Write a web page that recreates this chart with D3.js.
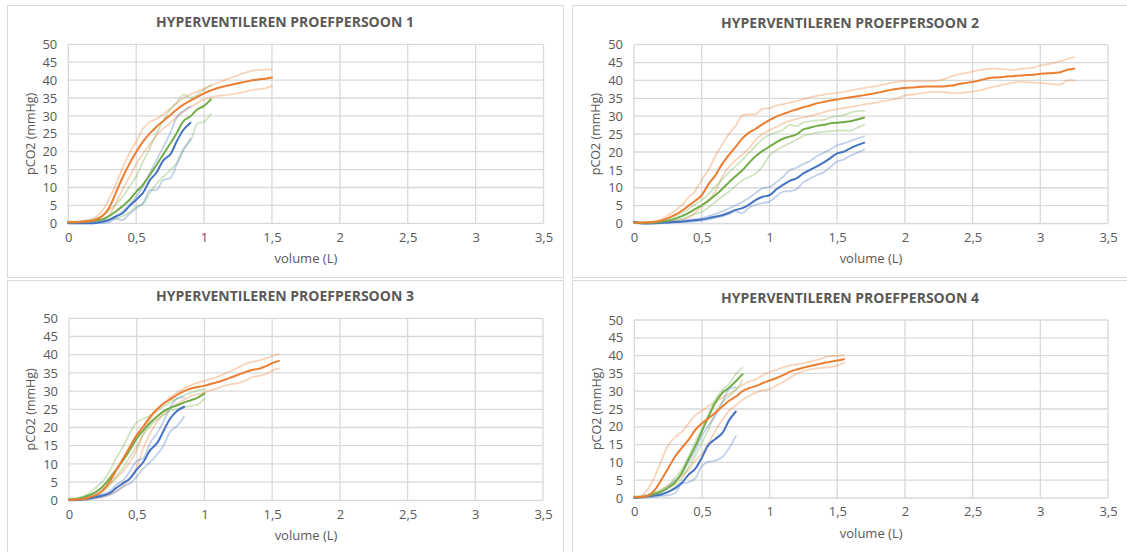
<!DOCTYPE html>
<html>
<head>
<meta charset="utf-8">
<script src="https://cdn.jsdelivr.net/npm/d3@7"></script>
<style>
  html, body { margin: 0; padding: 0; background: #fff; }
  svg { display: block; }
  text { font-family: "Open Sans", "Noto Sans", sans-serif; fill: #595959; }
</style>
</head>
<body>
<svg id="chart" width="1127" height="552"></svg>
<script>
// Sampled volume positions (L); each series uses the first N values.
const volumeL = [0,0.05,0.1,0.15,0.2,0.25,0.3,0.35,0.4,0.45,0.5,0.55,0.6,0.65,0.7,0.75,0.8,0.85,0.9,0.95,
  1,1.05,1.1,1.15,1.2,1.25,1.3,1.35,1.4,1.45,1.5,1.55,1.6,1.65,1.7,1.75,1.8,1.85,1.9,1.95,
  2,2.05,2.1,2.15,2.2,2.25,2.3,2.35,2.4,2.45,2.5,2.55,2.6,2.65,2.7,2.75,2.8,2.85,2.9,2.95,
  3,3.05,3.1,3.15,3.2,3.25];

const titles = ["HYPERVENTILEREN PROEFPERSOON 1", "HYPERVENTILEREN PROEFPERSOON 2",
                "HYPERVENTILEREN PROEFPERSOON 3", "HYPERVENTILEREN PROEFPERSOON 4"];
const xTicks = [0, 0.5, 1, 1.5, 2, 2.5, 3, 3.5];
const xTickLabels = ["0", "0,5", "1", "1,5", "2", "2,5", "3", "3,5"];
const yTicks = [0, 5, 10, 15, 20, 25, 30, 35, 40, 45, 50];
const xTitle = "volume (L)";
const yTitle = "pCO2 (mmHg)";

// Proefpersoon 1 — pCO2 (mmHg): mean with upper/lower band
const p1Orange     = [0.3,0.3,0.4,0.6,1.0,2.0,4.3,8.5,12.8,16.6,19.9,22.8,25.1,27.0,28.6,30.2,31.8,33.2,34.3,35.3,36.3,37.1,37.8,38.3,38.7,39.1,39.5,39.9,40.2,40.4,40.7];
const p1OrangeHigh = [0.5,0.5,0.6,1.0,1.6,3.5,6.8,10.8,15.5,19.6,22.8,26.5,28.3,29.2,30.5,32.0,33.6,35.0,36.0,36.8,37.6,38.5,39.2,40.0,40.7,41.4,42.0,42.6,42.8,42.9,43.0];
const p1OrangeLow  = [0.2,0.2,0.3,0.4,0.6,1.0,2.2,5.5,9.5,13.0,16.5,19.5,22.0,24.6,26.5,28.0,29.8,31.2,32.5,33.6,34.6,35.2,35.6,35.8,36.0,36.3,36.7,37.2,37.5,37.7,38.3];
const p1Green      = [0.3,0.3,0.4,0.5,0.8,1.1,2.0,3.3,4.8,6.5,8.8,10.8,13.5,16.3,19.3,22.2,25.3,28.6,29.9,31.8,32.8,34.6];
const p1GreenHigh  = [0.4,0.4,0.5,0.8,1.2,2.0,3.5,5.3,7.4,10.2,13.0,17.2,21.0,25.1,28.8,31.8,33.8,36.0,35.0,35.9,37.3,38.6];
const p1GreenLow   = [0.2,0.2,0.3,0.4,0.5,0.7,1.0,1.4,2.0,3.0,4.7,5.4,8.4,11.0,13.0,14.8,17.0,21.0,23.0,27.8,28.3,30.5];
const p1Blue       = [0.0,0.0,0.0,0.0,0.1,0.4,0.9,1.9,2.8,4.8,6.6,8.5,12.0,14.2,17.6,19.2,23.0,26.2,28.1];
const p1BlueHigh   = [0.1,0.1,0.1,0.2,0.4,0.8,1.2,2.0,3.3,5.2,7.5,10.3,14.0,17.7,21.4,25.1,29.6,31.5,32.6];
const p1BlueLow    = [0.0,0.0,0.0,0.0,0.0,0.1,0.3,1.3,0.9,2.6,4.2,5.6,9.2,9.3,12.1,12.6,16.5,20.5,23.7];

// Proefpersoon 2
const p2Orange     = [0.3,0.2,0.3,0.4,0.8,1.5,2.4,3.5,4.9,6.3,7.9,11.0,13.4,16.6,19.1,21.4,23.8,25.4,26.5,27.8,28.9,29.9,30.6,31.3,31.9,32.5,33.0,33.6,34.0,34.4,34.7,35.0,35.3,35.6,35.9,36.2,36.6,37.0,37.4,37.7,37.9,38.0,38.2,38.3,38.3,38.3,38.4,38.6,39.0,39.3,39.6,40.0,40.5,40.8,40.9,41.1,41.2,41.4,41.5,41.6,41.9,42.0,42.1,42.3,43.0,43.3];
const p2OrangeHigh = [0.5,0.3,0.4,0.6,1.1,2.3,3.5,5.0,7.2,9.0,12.2,15.0,18.8,22.0,25.0,27.3,30.2,30.5,30.6,32.1,32.2,33.0,33.3,33.8,34.2,34.8,35.3,35.7,36.0,36.3,36.5,36.8,37.2,37.6,37.9,38.2,38.5,38.9,39.3,39.7,39.8,39.8,39.8,39.8,39.8,40.0,40.5,41.2,41.7,42.1,42.5,42.9,43.2,43.3,43.2,43.1,42.9,43.2,43.4,43.6,44.2,44.5,44.9,45.4,46.0,46.5];
const p2OrangeLow  = [0.2,0.1,0.2,0.3,0.4,0.5,0.8,1.1,1.6,3.0,4.7,6.5,8.9,13.0,15.8,17.7,19.3,21.0,23.5,25.0,26.1,27.0,28.0,28.7,29.2,29.7,30.1,30.6,31.1,31.6,32.0,32.3,32.6,32.9,33.3,33.6,33.9,34.3,34.6,35.0,35.8,36.0,36.3,36.6,36.8,36.8,36.7,36.5,36.5,36.7,36.9,37.2,37.7,38.2,38.6,39.0,39.4,39.6,39.5,39.4,39.3,39.1,38.9,38.9,40.0,40.0];
const p2Green      = [0.3,0.2,0.2,0.3,0.5,0.8,1.3,2.0,2.9,4.0,5.1,6.4,7.9,9.6,11.5,13.2,14.9,17.0,18.9,20.3,21.5,22.7,23.7,24.3,24.9,26.3,26.8,27.3,27.6,28.0,28.2,28.4,28.6,29.1,29.6];
const p2GreenHigh  = [0.4,0.3,0.3,0.5,0.8,1.2,2.0,2.9,4.0,5.3,6.6,8.2,10.3,12.3,14.2,16.0,17.8,19.8,21.8,23.6,24.8,25.5,26.2,27.6,27.2,28.2,28.6,28.8,29.0,29.6,30.0,30.3,31.0,31.4,31.5];
const p2GreenLow   = [0.2,0.1,0.1,0.2,0.3,0.5,0.8,1.2,1.9,2.6,3.3,4.5,6.0,7.5,8.9,10.5,12.1,13.0,14.0,16.0,19.0,20.5,21.5,22.5,23.4,24.5,25.0,25.4,25.6,25.8,26.0,26.0,26.0,26.8,27.6];
const p2Blue       = [0.4,0.1,0.0,0.1,0.2,0.3,0.4,0.5,0.7,0.9,1.1,1.5,1.9,2.3,3.0,3.8,4.3,5.3,6.6,7.5,7.9,9.5,10.8,11.9,12.6,14.0,15.0,16.0,17.0,18.3,19.6,20.1,21.1,21.9,22.6];
const p2BlueHigh   = [0.5,0.2,0.1,0.2,0.3,0.4,0.6,0.8,1.0,1.2,1.5,2.0,2.6,3.3,4.2,5.1,6.0,7.2,8.6,9.9,10.2,11.5,13.0,14.9,15.6,16.6,17.5,18.8,19.8,20.7,21.9,22.4,23.1,23.8,24.4];
const p2BlueLow    = [0.2,0.0,0.0,0.0,0.1,0.2,0.3,0.4,0.5,0.6,0.8,1.1,1.6,2.0,2.6,3.5,2.9,4.5,5.3,5.7,6.1,7.6,8.9,9.0,9.6,11.5,12.6,13.5,14.3,15.8,17.3,17.9,19.0,19.8,20.7];

// Proefpersoon 3
const p3Orange     = [0.1,0.2,0.3,0.8,1.5,2.8,5.1,8.3,11.5,14.7,17.9,20.3,23.0,25.0,26.6,27.8,29.0,30.0,30.7,31.1,31.5,32.0,32.5,33.1,33.8,34.5,35.2,35.8,36.1,36.8,37.7,38.3];
const p3OrangeHigh = [0.4,0.4,0.5,0.8,1.3,2.5,4.3,6.2,8.0,10.5,13.8,18.5,22.2,25.0,26.8,28.4,29.6,30.8,31.6,32.3,32.8,33.4,34.0,34.8,35.6,36.5,37.4,38.0,38.4,38.9,39.6,40.2];
const p3OrangeLow  = [0.1,0.1,0.2,0.4,0.7,1.0,1.5,2.5,3.8,6.0,9.2,14.5,18.5,21.6,23.8,25.4,26.6,27.6,28.6,29.1,29.6,30.3,30.8,31.5,31.9,32.2,32.8,33.8,34.2,34.6,35.6,36.3];
const p3Green      = [0.2,0.3,0.8,1.4,2.3,3.8,6.0,8.5,11.0,13.9,17.0,19.3,21.3,23.0,24.5,25.4,26.1,26.9,27.5,28.2,29.3];
const p3GreenHigh  = [0.5,0.5,1.0,2.0,3.6,5.2,8.0,11.6,14.8,18.5,21.4,22.4,23.3,24.6,25.8,27.0,28.0,28.9,29.6,30.1,30.6];
const p3GreenLow   = [0.1,0.2,0.5,0.9,1.3,2.6,4.3,6.6,9.0,12.0,14.8,18.0,20.5,22.2,23.4,24.6,25.1,25.5,26.0,26.3,28.0];
const p3Blue       = [0.0,0.1,0.2,0.5,0.9,1.3,2.0,3.4,4.7,6.0,8.4,10.6,13.8,15.7,19.2,22.6,24.6,25.7];
const p3BlueHigh   = [0.1,0.2,0.3,0.7,1.2,1.7,2.5,4.2,5.5,8.0,10.8,11.6,15.8,18.4,21.8,25.7,28.0,28.3];
const p3BlueLow    = [0.0,0.0,0.1,0.3,0.6,0.9,1.6,2.4,3.8,4.6,6.5,8.8,10.5,12.5,15.2,19.0,20.5,23.0];

// Proefpersoon 4
const p4Orange     = [0.2,0.3,0.6,2.2,5.1,8.3,11.6,14.0,16.3,19.1,21.0,22.4,24.0,25.7,27.3,28.5,30.0,30.9,31.5,32.3,33.0,33.7,34.5,35.5,36.1,36.6,37.1,37.5,37.9,38.3,38.6,39.0];
const p4OrangeHigh = [0.5,0.6,2.5,6.0,10.5,14.8,17.0,18.6,20.9,23.2,24.5,25.9,27.0,28.2,29.2,30.5,31.8,32.7,33.4,34.5,35.4,36.0,36.7,37.2,37.5,37.9,38.3,38.8,39.4,39.9,39.9,40.2];
const p4OrangeLow  = [0.1,0.2,0.5,1.2,2.3,3.5,4.7,6.2,7.9,10.5,12.5,15.5,19.0,22.0,24.5,26.0,27.6,28.7,29.6,30.2,30.6,31.6,32.6,33.8,34.9,35.6,36.1,36.4,36.6,36.8,37.2,38.0];
const p4Green      = [0.2,0.3,0.6,1.2,1.8,2.8,4.3,7.0,10.8,14.5,18.8,23.0,26.8,29.5,31.0,32.8,34.8];
const p4GreenHigh  = [0.4,0.5,1.0,1.6,2.2,3.5,5.6,8.0,11.6,15.8,19.5,23.6,27.8,30.3,32.0,34.8,36.7];
const p4GreenLow   = [0.1,0.2,0.4,0.8,1.2,1.8,3.2,5.4,8.6,11.8,15.5,19.5,23.8,27.0,28.5,30.3,33.0];
const p4Blue       = [0.0,0.2,0.4,0.7,1.0,1.7,2.7,4.2,6.5,8.2,11.4,15.0,16.6,18.2,21.8,24.3];
const p4BlueHigh   = [0.1,0.3,0.6,1.1,1.8,3.0,4.8,6.9,10.0,13.2,17.5,20.5,23.2,26.7,30.6,31.1];
const p4BlueLow    = [0.0,0.1,0.2,0.3,0.6,0.8,1.3,4.0,4.4,5.5,9.0,10.2,10.5,11.5,14.0,17.4];

const colors = { orange: "#ED7D31", green: "#70AD47", blue: "#4472C4" };

const panels = [
  { title: titles[0], box: { x: 7,   y: 5,   w: 556, h: 272 }, plot: { l: 68.3, t: 44.3, r: 543.5, b: 223.3 },
    groups: [
      { c: colors.orange, mid: p1Orange, hi: p1OrangeHigh, lo: p1OrangeLow },
      { c: colors.green,  mid: p1Green,  hi: p1GreenHigh,  lo: p1GreenLow },
      { c: colors.blue,   mid: p1Blue,   hi: p1BlueHigh,   lo: p1BlueLow } ] },
  { title: titles[1], box: { x: 572, y: 5,   w: 556, h: 272 }, plot: { l: 634, t: 44.7, r: 1108, b: 223.5 },
    groups: [
      { c: colors.orange, mid: p2Orange, hi: p2OrangeHigh, lo: p2OrangeLow },
      { c: colors.green,  mid: p2Green,  hi: p2GreenHigh,  lo: p2GreenLow },
      { c: colors.blue,   mid: p2Blue,   hi: p2BlueHigh,   lo: p2BlueLow } ] },
  { title: titles[2], box: { x: 7,   y: 280, w: 556, h: 290 }, plot: { l: 69, t: 318.3, r: 543, b: 500.3 },
    groups: [
      { c: colors.orange, mid: p3Orange, hi: p3OrangeHigh, lo: p3OrangeLow },
      { c: colors.green,  mid: p3Green,  hi: p3GreenHigh,  lo: p3GreenLow },
      { c: colors.blue,   mid: p3Blue,   hi: p3BlueHigh,   lo: p3BlueLow } ] },
  { title: titles[3], box: { x: 572, y: 280, w: 556, h: 290 }, plot: { l: 634.3, t: 320, r: 1108, b: 498 },
    groups: [
      { c: colors.orange, mid: p4Orange, hi: p4OrangeHigh, lo: p4OrangeLow },
      { c: colors.green,  mid: p4Green,  hi: p4GreenHigh,  lo: p4GreenLow },
      { c: colors.blue,   mid: p4Blue,   hi: p4BlueHigh,   lo: p4BlueLow } ] }
];

const svg = d3.select("#chart");
const gridColor = "#D9D9D9";

panels.forEach(p => {
  const g = svg.append("g");

  g.append("rect")
    .attr("x", p.box.x + 0.5).attr("y", p.box.y + 0.5)
    .attr("width", p.box.w).attr("height", p.box.h)
    .attr("fill", "#fff").attr("stroke", gridColor).attr("stroke-width", 1);

  const x = d3.scaleLinear().domain([0, 3.5]).range([p.plot.l, p.plot.r]);
  const y = d3.scaleLinear().domain([0, 50]).range([p.plot.b, p.plot.t]);

  // gridlines
  g.append("g").selectAll("line").data(yTicks).join("line")
    .attr("x1", p.plot.l).attr("x2", p.plot.r)
    .attr("y1", d => y(d)).attr("y2", d => y(d))
    .attr("stroke", gridColor).attr("stroke-width", 1.3);
  g.append("g").selectAll("line").data(xTicks).join("line")
    .attr("x1", d => x(d)).attr("x2", d => x(d))
    .attr("y1", p.plot.t).attr("y2", p.plot.b)
    .attr("stroke", gridColor).attr("stroke-width", 1.3);

  // axes (labels only, lines hidden)
  const yAxis = d3.axisLeft(y).tickValues(yTicks).tickSize(0).tickPadding(11);
  const yg = g.append("g").attr("transform", `translate(${p.plot.l},0)`).call(yAxis);
  const xAxis = d3.axisBottom(x).tickValues(xTicks).tickSize(0).tickPadding(9)
    .tickFormat((d, i) => xTickLabels[i]);
  const xg = g.append("g").attr("transform", `translate(0,${p.plot.b})`).call(xAxis);
  [yg, xg].forEach(a => {
    a.select(".domain").remove();
    a.selectAll("text").attr("font-size", 13).attr("fill", "#595959")
      .attr("font-family", '"Open Sans", sans-serif');
  });

  // titles
  g.append("text")
    .attr("x", p.box.x + p.box.w / 2).attr("y", p.plot.t - 22)
    .attr("dy", "0.35em").attr("text-anchor", "middle")
    .attr("font-size", 14).attr("font-weight", 700)
    .text(p.title);
  g.append("text")
    .attr("x", (p.plot.l + p.plot.r) / 2).attr("y", p.plot.b + 35)
    .attr("dy", "0.35em").attr("text-anchor", "middle")
    .attr("font-size", 13).text(xTitle);
  g.append("text")
    .attr("transform", `translate(${p.plot.l - 38},${(p.plot.t + p.plot.b) / 2}) rotate(-90)`)
    .attr("dy", "0.35em").attr("text-anchor", "middle")
    .attr("font-size", 12.5).text(yTitle);

  const line = d3.line()
    .x((d, i) => x(volumeL[i]))
    .y(d => y(d))
    .curve(d3.curveCatmullRom.alpha(0.5));

  const lines = g.append("g");
  // band lines first (lighter), then the mean lines on top
  p.groups.forEach(s => {
    [s.hi, s.lo].forEach(arr => {
      lines.append("path").attr("d", line(arr))
        .attr("fill", "none").attr("stroke", s.c)
        .attr("stroke-opacity", 0.33).attr("stroke-width", 1.8)
        .attr("stroke-linejoin", "round").attr("stroke-linecap", "round");
    });
  });
  p.groups.slice().reverse().forEach(s => {
    lines.append("path").attr("d", line(s.mid))
      .attr("fill", "none").attr("stroke", s.c)
      .attr("stroke-width", 2).attr("stroke-linejoin", "round").attr("stroke-linecap", "round");
  });
});
</script>
</body>
</html>
